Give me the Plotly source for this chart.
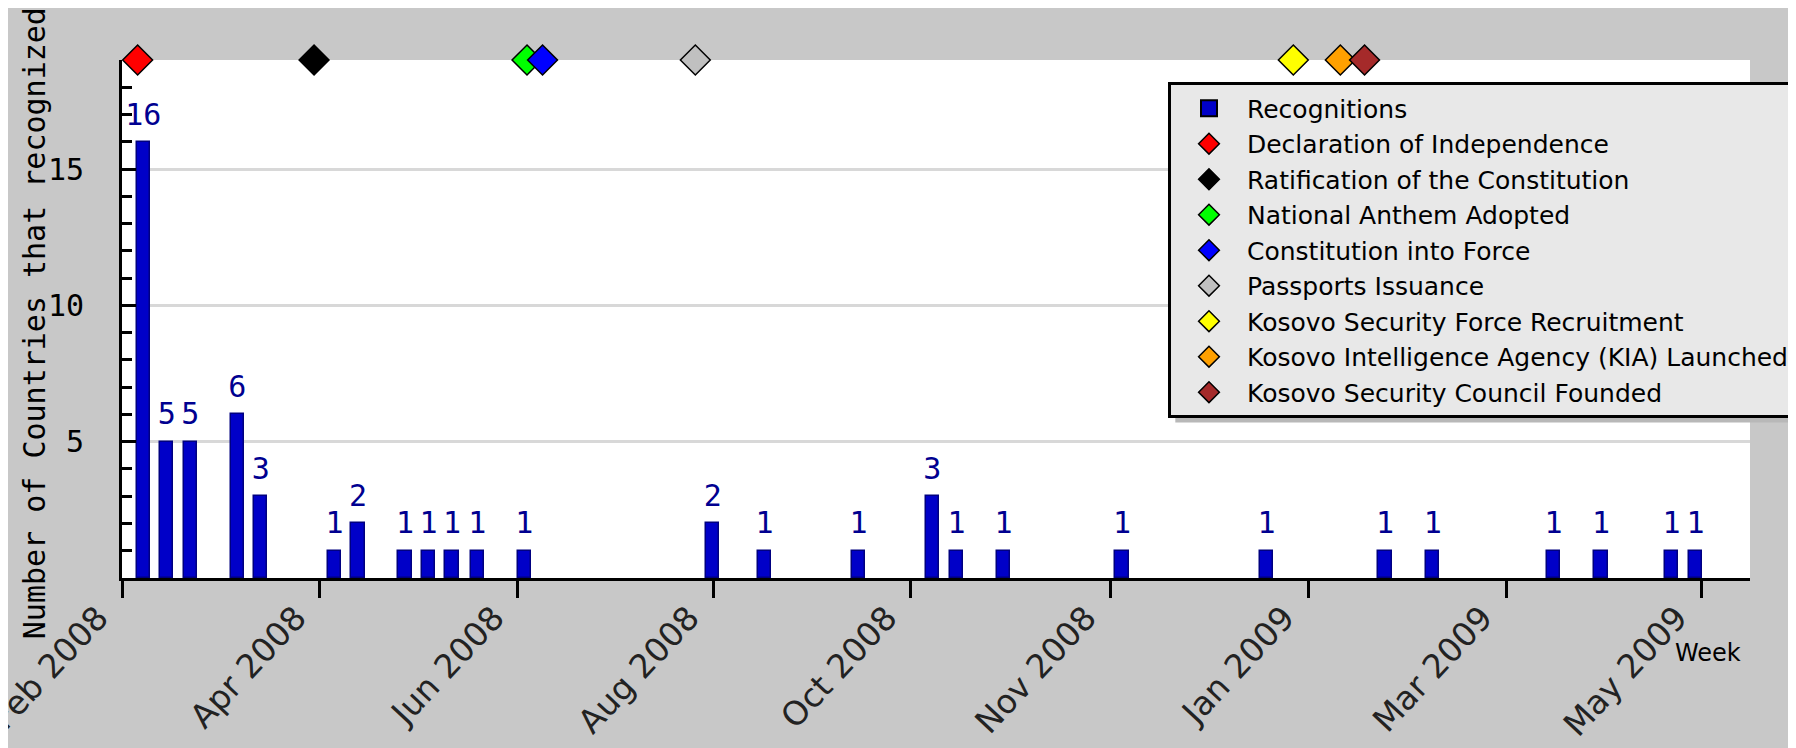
import plotly.graph_objects as go

# ---------------- data ----------------
week_dates = [
    "2008-02-17", "2008-02-24", "2008-03-02", "2008-03-16", "2008-03-23",
    "2008-04-14", "2008-04-21", "2008-05-05", "2008-05-12", "2008-05-19",
    "2008-05-26 12:00", "2008-06-09 12:00", "2008-08-04 14:00", "2008-08-20",
    "2008-09-17", "2008-10-09", "2008-10-16 04:00", "2008-10-30 04:00",
    "2008-12-04 12:00", "2009-01-16 12:00", "2009-02-20 20:00", "2009-03-07",
    "2009-04-12", "2009-04-26 04:00", "2009-05-17 04:00", "2009-05-24 06:00",
]
recognitions = [16, 5, 5, 6, 3, 1, 2, 1, 1, 1, 1, 1, 2, 1, 1, 3, 1, 1, 1, 1, 1, 1, 1, 1, 1, 1]

event_names = [
    "Declaration of Independence",
    "Ratification of the Constitution",
    "National Anthem Adopted",
    "Constitution into Force",
    "Passports Issuance",
    "Kosovo Security Force Recruitment",
    "Kosovo Intelligence Agency (KIA) Launched",
    "Kosovo Security Council Founded",
]
event_dates = [
    "2008-02-15 08:00", "2008-04-07 21:00", "2008-06-10 07:00", "2008-06-14 22:00",
    "2008-07-30 10:00", "2009-01-24 12:00", "2009-02-07 12:00", "2009-02-14 17:00",
]
event_level = [19, 19, 19, 19, 19, 19, 19, 19]
event_colors = ["#ff0000", "#000000", "#00ff00", "#0000ff", "#c0c0c0",
                "#ffff00", "#ffa000", "#a52a2a"]

x_tick_dates = [
    "2008-02-10 16:19", "2008-04-09 15:00", "2008-06-07 14:00", "2008-08-04 17:00",
    "2008-10-02 14:00", "2008-11-30 22:00", "2009-01-28 22:00", "2009-03-28 22:00",
    "2009-05-25 22:00",
]
x_tick_labels = ["Feb 2008", "Apr 2008", "Jun 2008", "Aug 2008", "Oct 2008",
                 "Nov 2008", "Jan 2009", "Mar 2009", "May 2009"]
x_range = ["2008-02-10 16:19", "2009-06-09 12:00"]
y_tick_vals = [5, 10, 15]
y_max = 19

MONO = "DejaVu Sans Mono"
SANS = "DejaVu Sans"
DAY_MS = 86400000
BAR_FILL = "#0000c8"
BAR_EDGE = "#000080"

fig = go.Figure()

fig.add_trace(go.Bar(
    x=week_dates, y=recognitions, name="Recognitions",
    width=4.0 * DAY_MS, showlegend=False, legendgroup="rec",
    marker=dict(color=BAR_FILL, line=dict(color=BAR_EDGE, width=1.5)),
    hoverinfo="skip",
))
# legend entry for the bars (larger square symbol)
fig.add_trace(go.Scatter(
    x=[None], y=[None], mode="markers", name="Recognitions", legendgroup="rec",
    marker=dict(symbol="square", size=20, color=BAR_FILL,
                line=dict(color="black", width=2)),
    hoverinfo="skip",
))

fig.add_trace(go.Scatter(
    x=week_dates, y=recognitions, mode="markers+text",
    text=[str(v) for v in recognitions], textposition="top center",
    textfont=dict(family=MONO, size=30, color="#000090"),
    marker=dict(size=14, color="rgba(0,0,0,0)"),
    showlegend=False, hoverinfo="skip", cliponaxis=False,
))

for name, d, lvl, c in zip(event_names, event_dates, event_level, event_colors):
    fig.add_trace(go.Scatter(
        x=[d], y=[lvl], mode="markers", name=name,
        marker=dict(symbol="diamond", size=23, color=c,
                    line=dict(color="black", width=1.5)),
        cliponaxis=False, hoverinfo="skip",
    ))

# legend shadow
fig.add_shape(type="rect", xref="paper", yref="paper",
              x0=0.647, x1=1.2, y0=0.30, y1=0.94,
              fillcolor="#b8b8b8", line=dict(width=0), layer="below")

fig.add_annotation(text="Number of Countries that recognized", textangle=-90,
                   xref="paper", yref="paper", x=-0.054, y=0.492,
                   xanchor="center", yanchor="middle", showarrow=False,
                   font=dict(family=MONO, size=30, color="black"))
fig.add_annotation(text="Week", xref="paper", yref="paper", x=0.9957, y=-0.1448,
                   xanchor="right", yanchor="middle", showarrow=False,
                   font=dict(family=SANS, size=24, color="black"))

fig.update_layout(
    width=1796, height=748,
    margin=dict(l=114, r=54, t=52, b=178, autoexpand=False),
    paper_bgcolor="#c8c8c8", plot_bgcolor="white",
    bargap=0, barmode="overlay",
    showlegend=True,
    legend=dict(x=0.6425, y=0.9566, xanchor="left", yanchor="top",
                bgcolor="#e8e8e8", bordercolor="black", borderwidth=3,
                font=dict(family=SANS, size=25, color="black"),
                itemwidth=66, tracegroupgap=0),
    xaxis=dict(type="date", range=x_range, tickmode="array",
               tickvals=x_tick_dates, ticktext=x_tick_labels,
               ticks="outside", ticklen=17, tickwidth=3, tickcolor="black",
               ticklabelshift=-24, ticklabelstandoff=-13,
               ticklabeloverflow="allow",
               showline=True, linewidth=3, linecolor="black",
               showgrid=False, zeroline=False, tickangle=-47,
               tickfont=dict(family=SANS, size=33, color="#222222")),
    yaxis=dict(range=[0, y_max], tickmode="array", tickvals=y_tick_vals,
               ticks="inside", ticklen=14, tickwidth=3, tickcolor="black",
               ticklabelstandoff=29,
               minor=dict(tickmode="linear", tick0=0, dtick=1, ticks="inside",
                          ticklen=10, tickwidth=3, tickcolor="black", showgrid=False),
               showline=True, linewidth=3, linecolor="black",
               showgrid=True, gridcolor="#d8d8d8", gridwidth=2.5, zeroline=False,
               tickfont=dict(family=MONO, size=30, color="black")),
)

fig.write_html("out.html")
